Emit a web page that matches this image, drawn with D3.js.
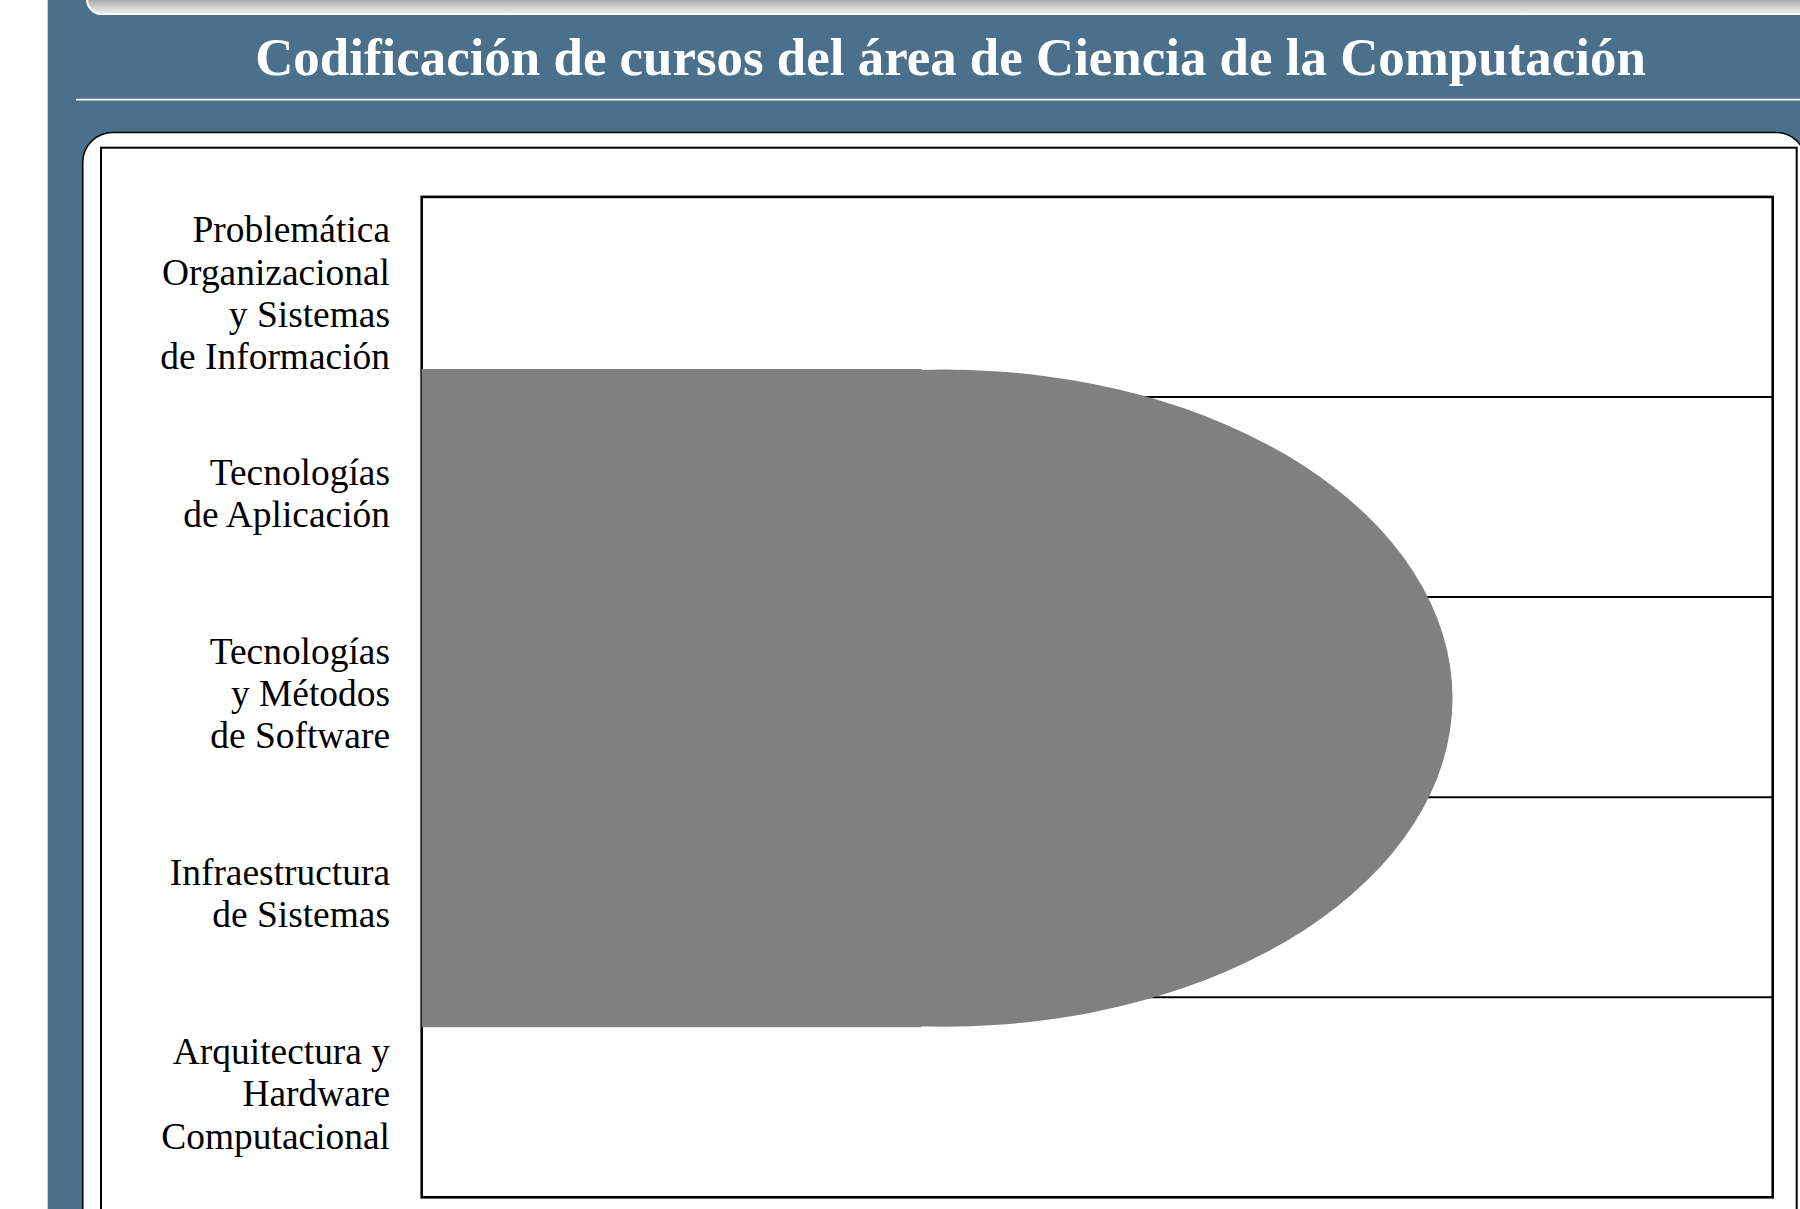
<!DOCTYPE html>
<html>
<head>
<meta charset="utf-8">
<script src="https://cdn.jsdelivr.net/npm/d3@7"></script>
<style>
  html, body { margin: 0; padding: 0; background: #ffffff; }
  svg { display: block; }
</style>
</head>
<body>
<svg id="chart" width="1800" height="1209"></svg>
<script>
// ---------------- data ----------------
const titleText = "Codificación de cursos del área de Ciencia de la Computación";

// Row categories (top to bottom), each split into its printed lines
const categories = [
  "Problemática Organizacional y Sistemas de Información",
  "Tecnologías de Aplicación",
  "Tecnologías y Métodos de Software",
  "Infraestructura de Sistemas",
  "Arquitectura y Hardware Computacional"
];
const categoryLines = [
  ["Problemática", "Organizacional", "y Sistemas", "de Información"],
  ["Tecnologías", "de Aplicación"],
  ["Tecnologías", "y Métodos", "de Software"],
  ["Infraestructura", "de Sistemas"],
  ["Arquitectura y", "Hardware", "Computacional"]
];

// Coverage shape of the Computer Science area
// x in horizontal units (0..10 across the plot), y in row units (0 = bottom, 5 = top)
const xDomain = [0, 10];
const yDomain = [0, 5];
const shapeX = [0, 3.70, 3.87, 7.63];   // start, end of flat part, arc centre, arc extremity
const shapeY = [0.85, 4.14];            // bottom, top

// ---------------- layout ----------------
const W = 1800, H = 1209;
const svg = d3.select("#chart");

const plot = { left: 421.7, right: 1772.7, top: 196.9, bottom: 1197.3 };

const x = d3.scaleLinear().domain(xDomain).range([plot.left, plot.right]);
const y = d3.scaleLinear().domain(yDomain).range([plot.bottom, plot.top]);
const band = d3.scaleBand().domain(categories).range([plot.top, plot.bottom]).padding(0);

// ---------------- slide background ----------------
svg.append("rect").attr("x", 0).attr("y", 0).attr("width", W).attr("height", H).attr("fill", "#ffffff");
svg.append("rect").attr("x", 47.7).attr("y", 0).attr("width", W - 47.7).attr("height", H).attr("fill", "#4b708b");

const defs = svg.append("defs");
const grad = defs.append("linearGradient").attr("id", "topbar").attr("x1", 0).attr("y1", 0).attr("x2", 0).attr("y2", 1);
grad.append("stop").attr("offset", "0%").attr("stop-color", "#4a4a4a");
grad.append("stop").attr("offset", "55%").attr("stop-color", "#8c8c8c");
grad.append("stop").attr("offset", "85%").attr("stop-color", "#d2d2d2");
grad.append("stop").attr("offset", "100%").attr("stop-color", "#eeeeee");

svg.append("rect")
  .attr("x", 87).attr("y", -30).attr("width", 1760).attr("height", 44)
  .attr("rx", 15).attr("ry", 15)
  .attr("fill", "url(#topbar)").attr("stroke", "#ffffff").attr("stroke-width", 2.2);

// title
const title = svg.append("text")
  .attr("x", 950.5).attr("y", 75)
  .attr("text-anchor", "middle")
  .attr("fill", "#ffffff")
  .attr("font-family", "'Liberation Serif', 'DejaVu Serif', serif")
  .attr("font-weight", "bold")
  .attr("font-size", 46)
  .text(titleText);
{
  const w = title.node().getComputedTextLength();
  title.attr("font-size", 46 * 1391 / w);
}

// rule under the title
svg.append("line").attr("x1", 76).attr("x2", W).attr("y1", 99.7).attr("y2", 99.7)
  .attr("stroke", "#ffffff").attr("stroke-width", 1.8);

// white rounded panel
svg.append("rect")
  .attr("x", 82.7).attr("y", 132.5).attr("width", 1806 - 82.7).attr("height", 1200)
  .attr("rx", 30).attr("ry", 30)
  .attr("fill", "#ffffff").attr("stroke", "#000000").attr("stroke-width", 1.6);

// inner frame
svg.append("rect")
  .attr("x", 101).attr("y", 147.7).attr("width", 1796.7 - 101).attr("height", 1200)
  .attr("fill", "none").attr("stroke", "#000000").attr("stroke-width", 2);

// ---------------- plot ----------------
const g = svg.append("g");

g.append("rect")
  .attr("x", plot.left).attr("y", plot.top)
  .attr("width", plot.right - plot.left).attr("height", plot.bottom - plot.top)
  .attr("fill", "#ffffff");

// row separators
g.selectAll("line.row")
  .data(categories.slice(1))
  .join("line")
  .attr("class", "row")
  .attr("x1", plot.left).attr("x2", plot.right)
  .attr("y1", d => band(d)).attr("y2", d => band(d))
  .attr("stroke", "#000000").attr("stroke-width", 2);

// plot border
g.append("rect")
  .attr("x", plot.left).attr("y", plot.top)
  .attr("width", plot.right - plot.left).attr("height", plot.bottom - plot.top)
  .attr("fill", "none").attr("stroke", "#000000").attr("stroke-width", 2.6);

// coverage shape: flat part + half ellipse
const shape = g.append("g").attr("fill", "#808080");
shape.append("rect")
  .attr("x", x(shapeX[0])).attr("y", y(shapeY[1]))
  .attr("width", x(shapeX[1]) - x(shapeX[0]))
  .attr("height", y(shapeY[0]) - y(shapeY[1]));
shape.append("ellipse")
  .attr("cx", x(shapeX[2]))
  .attr("cy", y((shapeY[0] + shapeY[1]) / 2))
  .attr("rx", x(shapeX[3]) - x(shapeX[2]))
  .attr("ry", (y(shapeY[0]) - y(shapeY[1])) / 2 - 0.6);

// row labels
const labelFont = "'Liberation Serif', 'DejaVu Serif', serif";
const probe = svg.append("text").attr("font-family", labelFont).attr("font-size", 35).text("Organizacional");
const labelSize = 35 * 228 / probe.node().getComputedTextLength();
probe.remove();

const lineH = 42.3;
const labels = svg.append("g")
  .attr("font-family", labelFont)
  .attr("font-size", labelSize)
  .attr("fill", "#000000")
  .attr("text-anchor", "end");

categories.forEach((c, i) => {
  const lines = categoryLines[i];
  const cy = band(c) + band.bandwidth() / 2 + 9;
  const t = labels.append("text");
  lines.forEach((ln, j) => {
    t.append("tspan")
      .attr("x", 390)
      .attr("y", cy + (j - (lines.length - 1) / 2) * lineH)
      .text(ln);
  });
});
</script>
</body>
</html>
